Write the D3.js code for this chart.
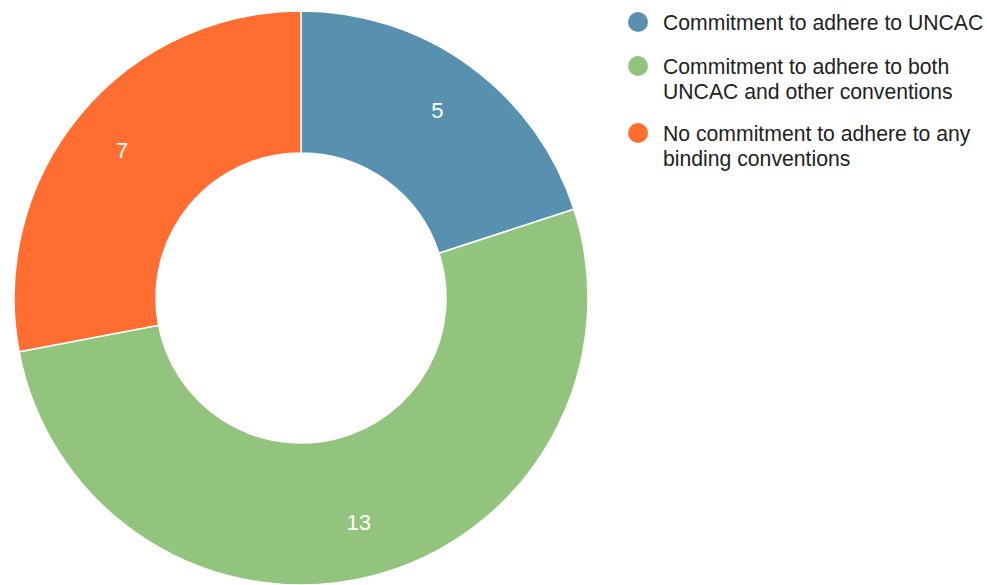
<!DOCTYPE html>
<html>
<head>
<meta charset="utf-8">
<script src="https://cdn.jsdelivr.net/npm/d3@7"></script>
<style>
  html, body { margin: 0; padding: 0; background: #fff; }
  svg { display: block; }
</style>
</head>
<body>
<svg id="chart" width="987" height="585"></svg>
<script>
const categories = [
  "Commitment to adhere to UNCAC",
  "Commitment to adhere to both UNCAC and other conventions",
  "No commitment to adhere to any binding conventions"
];
const legendLines = [
  ["Commitment to adhere to UNCAC"],
  ["Commitment to adhere to both", "UNCAC and other conventions"],
  ["No commitment to adhere to any", "binding conventions"]
];
const values = [5, 13, 7];
const colors = ["#5891b0", "#93c47d", "#ff6d31"];

const svg = d3.select("#chart");
const cx = 301, cy = 298, outerR = 287, innerR = 145, labelR = 232;

const pie = d3.pie().sort(null).value(d => d);
const arcs = pie(values);
const arc = d3.arc().innerRadius(innerR).outerRadius(outerR);
const labelArc = d3.arc().innerRadius(labelR).outerRadius(labelR);
const color = d3.scaleOrdinal().domain(categories).range(colors);

const g = svg.append("g").attr("transform", `translate(${cx},${cy})`);

g.selectAll("path.slice")
  .data(arcs)
  .join("path")
  .attr("class", "slice")
  .attr("d", arc)
  .attr("fill", (d, i) => color(categories[i]))
  .attr("stroke", "#fff")
  .attr("stroke-width", 1.5);

g.selectAll("text.value")
  .data(arcs)
  .join("text")
  .attr("class", "value")
  .attr("transform", d => `translate(${labelArc.centroid(d)})`)
  .attr("text-anchor", "middle")
  .attr("dominant-baseline", "central")
  .attr("font-family", "'Liberation Sans', Arial, sans-serif")
  .attr("font-size", 22)
  .attr("fill", "#fff")
  .text(d => d.data);

// Legend
const legendTops = [22, 66, 133];
const legend = svg.append("g");
legendLines.forEach((lines, i) => {
  const y = legendTops[i];
  legend.append("circle")
    .attr("cx", 638).attr("cy", y).attr("r", 10)
    .attr("fill", color(categories[i]));
  const t = legend.append("text")
    .attr("x", 663).attr("y", y)
    .attr("font-family", "'Liberation Sans', Arial, sans-serif")
    .attr("font-size", 21.2)
    .attr("fill", "#222");
  lines.forEach((ln, j) => {
    t.append("tspan")
      .attr("x", 663)
      .attr("y", y + j * 25)
      .attr("dominant-baseline", "central")
      .text(ln);
  });
});
</script>
</body>
</html>
